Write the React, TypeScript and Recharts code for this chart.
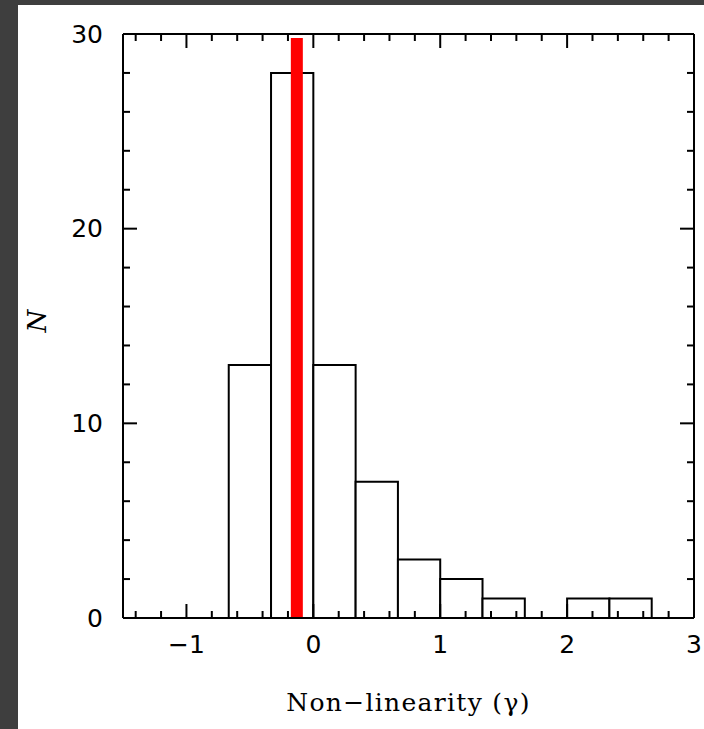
import React from 'react'
import { ComposedChart, XAxis, YAxis, Line, ReferenceArea, ReferenceLine } from 'recharts'

// histogram of the non-linearity index, bins of width 1/3
const binStarts = [-2 / 3, -1 / 3, 0, 1 / 3, 2 / 3, 1, 4 / 3, 5 / 3, 2, 7 / 3]
const binCounts = [13, 28, 13, 7, 3, 2, 1, 0, 1, 1]
const binWidth = 1 / 3

// vertical marker (sample median)
const markerGamma = -0.13
const markerTop = 29.8

const xDomain = [-1.5, 3]
const yDomain = [0, 30]
const xMajor = [-1, 0, 1, 2, 3]
const yMajor = [0, 10, 20, 30]
const xMinorStep = 0.2
const yMinorStep = 2

const buildTicks = (from: number, to: number, step: number) => {
  const out: number[] = []
  for (let v = from; v <= to + 1e-9; v += step) out.push(Math.round(v * 100) / 100)
  return out
}
const xTicks = buildTicks(-1.4, 3, xMinorStep)
const yTicks = buildTicks(0, 30, yMinorStep)

const bins = binStarts.map((start, i) => ({
  mid: start + binWidth / 2,
  count: binCounts[i],
}))

const W = 704
const H = 729
const MAJOR_LEN = 14
const MINOR_LEN = 7
const tickFont = { fontFamily: 'DejaVu Sans', fontSize: 25, fill: '#000' }

const fmt = (v: number) => (v < 0 ? `\u2212${Math.abs(v)}` : `${v}`)
const isMajor = (v: number, majors: number[]) => majors.some(m => Math.abs(m - v) < 1e-6)

type Side = 'bottom' | 'top' | 'left' | 'right'

// inward-pointing ticks on all four sides, labels only on bottom/left
const makeTick = (side: Side, majors: number[]) => (props: any) => {
  const { x, y, payload } = props
  const v = payload.value
  const major = isMajor(v, majors)
  const len = major ? MAJOR_LEN : MINOR_LEN
  let x2 = x
  let y2 = y
  if (side === 'bottom') y2 = y - len
  if (side === 'top') y2 = y + len
  if (side === 'left') x2 = x + len
  if (side === 'right') x2 = x - len
  return (
    <g>
      <line x1={x} y1={y} x2={x2} y2={y2} stroke="#000" strokeWidth={2} />
      {major && side === 'bottom' && (
        <text x={x} y={y + 26} textAnchor="middle" dominantBaseline="central" {...tickFont}>
          {fmt(v)}
        </text>
      )}
      {major && side === 'left' && (
        <text x={x - 20} y={y} textAnchor="end" dominantBaseline="central" {...tickFont}>
          {fmt(v)}
        </text>
      )}
    </g>
  )
}

const axisLine = { stroke: '#000', strokeWidth: 2 }

const XLabel = ({ viewBox }: any) => (
  <text
    x={viewBox.x + viewBox.width / 2}
    y={viewBox.y + 84}
    textAnchor="middle"
    dominantBaseline="central"
    fontFamily="DejaVu Serif"
    fontSize={25}
    letterSpacing={1.3}
    fill="#000"
  >
    Non{'\u2212'}linearity ({'\u03B3'})
  </text>
)

const YLabel = ({ viewBox }: any) => {
  const cx = viewBox.x - 85
  const cy = viewBox.y + viewBox.height / 2 - 5
  return (
    <text
      x={cx}
      y={cy}
      transform={`rotate(-90 ${cx} ${cy})`}
      textAnchor="middle"
      dominantBaseline="central"
      fontFamily="DejaVu Serif"
      fontStyle="italic"
      fontSize={26}
      fill="#000"
    >
      N
    </text>
  )
}

const App = () => {
  return (
    <div style={{ position: 'absolute', left: 0, top: 0, width: W, height: H, background: '#3e3e3e' }}>
      <div style={{ position: 'absolute', left: 18, top: 5, width: W - 18, height: H - 5, background: '#fff' }} />
      <div style={{ position: 'absolute', left: 0, top: 0, width: W, height: H }}>
        <ComposedChart
          width={W}
          height={H}
          data={bins}
          margin={{ top: 33, right: 9, bottom: 110, left: 122 }}
        >
          <XAxis
            xAxisId="bottom"
            dataKey="mid"
            type="number"
            domain={xDomain}
            allowDataOverflow
            ticks={xTicks}
            interval={0}
            height={1}
            tickSize={0}
            tickMargin={0}
            tickLine={false}
            axisLine={axisLine}
            tick={makeTick('bottom', xMajor)}
            label={<XLabel />}
          />
          <XAxis
            xAxisId="top"
            dataKey="mid"
            orientation="top"
            type="number"
            domain={xDomain}
            allowDataOverflow
            ticks={xTicks}
            interval={0}
            height={1}
            tickSize={0}
            tickMargin={0}
            tickLine={false}
            axisLine={axisLine}
            tick={makeTick('top', xMajor)}
          />
          <YAxis
            yAxisId="left"
            type="number"
            domain={yDomain}
            allowDataOverflow
            ticks={yTicks}
            interval={0}
            width={1}
            tickSize={0}
            tickMargin={0}
            tickLine={false}
            axisLine={axisLine}
            tick={makeTick('left', yMajor)}
            label={<YLabel />}
          />
          <YAxis
            yAxisId="right"
            orientation="right"
            type="number"
            domain={yDomain}
            allowDataOverflow
            ticks={yTicks}
            interval={0}
            width={1}
            tickSize={0}
            tickMargin={0}
            tickLine={false}
            axisLine={axisLine}
            tick={makeTick('right', yMajor)}
          />

          {/* histogram bins */}
          {binStarts.map((start, i) => (
            <ReferenceArea
              key={`bin-${i}`}
              xAxisId="bottom"
              yAxisId="left"
              x1={start}
              x2={start + binWidth}
              y1={0}
              y2={binCounts[i]}
              fill="#fff"
              fillOpacity={1}
              stroke="#000"
              strokeWidth={2}
              ifOverflow="visible"
            />
          ))}

          {/* marker */}
          <ReferenceLine
            xAxisId="bottom"
            yAxisId="left"
            segment={[
              { x: markerGamma, y: 0 },
              { x: markerGamma, y: markerTop },
            ]}
            stroke="#ff0000"
            strokeWidth={12}
            ifOverflow="visible"
          />

          {/* invisible series so the axes have something to scale */}
          <Line
            xAxisId="bottom"
            yAxisId="left"
            dataKey="count"
            stroke="none"
            dot={false}
            activeDot={false}
            isAnimationActive={false}
          />
        </ComposedChart>
      </div>
    </div>
  )
}

export default App
